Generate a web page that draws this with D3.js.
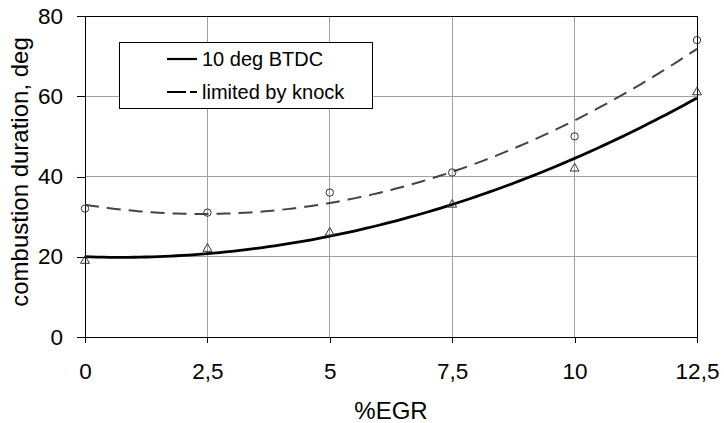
<!DOCTYPE html>
<html>
<head>
<meta charset="utf-8">
<script src="https://cdn.jsdelivr.net/npm/d3@7"></script>
<style>
  html, body { margin: 0; padding: 0; background: #fff; }
  svg text { font-family: "Liberation Sans", Arial, sans-serif; fill: #000; }
</style>
</head>
<body>
<svg id="chart" width="724" height="423"></svg>
<script>
// Measured points
const egr = [0, 2.5, 5, 7.5, 10, 12.5];
const btdc10 = [19, 22, 26, 33, 42, 61];     // 10 deg BTDC (triangles)
const knockLimited = [32, 31, 36, 41, 50, 74]; // limited by knock (circles)

const xTicks = [0, 2.5, 5, 7.5, 10, 12.5];
const yTicks = [0, 20, 40, 60, 80];
const seriesNames = ["10 deg BTDC", "limited by knock"];

(function () {
const svg = d3.select("#chart");
const pLeft = 85, pRight = 697, pTop = 16, pBottom = 337;

const x = d3.scaleLinear().domain([0, 12.5]).range([pLeft, pRight]);
const y = d3.scaleLinear().domain([0, 80]).range([pBottom, pTop]);
const fmt = d => String(d).replace(".", ",");

// Second-order least-squares trend line through the points
function quadFit(xs, ys) {
  const n = xs.length;
  let s = [0, 0, 0, 0, 0], t = [0, 0, 0];
  for (let i = 0; i < n; i++) {
    let p = 1;
    for (let k = 0; k <= 4; k++) { s[k] += p; if (k <= 2) t[k] += p * ys[i]; p *= xs[i]; }
  }
  const A = [[s[0], s[1], s[2], t[0]], [s[1], s[2], s[3], t[1]], [s[2], s[3], s[4], t[2]]];
  for (let c = 0; c < 3; c++) {
    for (let r = c + 1; r < 3; r++) {
      const f = A[r][c] / A[c][c];
      for (let k = c; k < 4; k++) A[r][k] -= f * A[c][k];
    }
  }
  const b = [0, 0, 0];
  for (let r = 2; r >= 0; r--) {
    let v = A[r][3];
    for (let k = r + 1; k < 3; k++) v -= A[r][k] * b[k];
    b[r] = v / A[r][r];
  }
  return xv => b[0] + b[1] * xv + b[2] * xv * xv;
}

// Grid
const grid = svg.append("g");
grid.selectAll(".vg").data(xTicks.slice(1, -1)).join("line")
  .attr("x1", d => x(d)).attr("x2", d => x(d)).attr("y1", pTop).attr("y2", pBottom)
  .attr("stroke", "#a0a0a0").attr("stroke-width", 1).attr("shape-rendering", "crispEdges");
grid.selectAll(".hg").data(yTicks.slice(1, -1)).join("line")
  .attr("x1", pLeft).attr("x2", pRight).attr("y1", d => y(d)).attr("y2", d => y(d))
  .attr("stroke", "#a0a0a0").attr("stroke-width", 1).attr("shape-rendering", "crispEdges");

// Frame
svg.append("rect").attr("x", pLeft).attr("y", pTop).attr("width", pRight - pLeft).attr("height", pBottom - pTop)
  .attr("fill", "none").attr("stroke", "#000").attr("stroke-width", 1).attr("shape-rendering", "crispEdges");

// Axes
const xAxis = svg.append("g").attr("transform", `translate(0,${pBottom})`)
  .call(d3.axisBottom(x).tickValues(xTicks).tickFormat(fmt).tickSize(6).tickPadding(20));
const yAxis = svg.append("g").attr("transform", `translate(${pLeft},0)`)
  .call(d3.axisLeft(y).tickValues(yTicks).tickSize(8).tickPadding(14));
[xAxis, yAxis].forEach(a => {
  a.select(".domain").remove();
  a.selectAll("line").attr("stroke", "#000").attr("shape-rendering", "crispEdges");
  a.selectAll("text").style("font-size", "22.5px").attr("fill", "#000");
});

// Axis titles
svg.append("text").attr("x", 391).attr("y", 419).attr("text-anchor", "middle")
  .style("font-size", "24px").text("%EGR");
svg.append("text").attr("transform", `translate(28,172) rotate(-90)`)
  .attr("text-anchor", "middle").style("font-size", "24px").text("combustion duration, deg");

// Trend lines
const xs = d3.range(0, 12.5 + 1e-9, 0.125);
const line = d3.line().x(d => x(d[0])).y(d => y(d[1]));
const fitA = quadFit(egr, btdc10), fitB = quadFit(egr, knockLimited);
svg.append("path").datum(xs.map(v => [v, fitB(v)])).attr("d", line)
  .attr("fill", "none").attr("stroke", "#444").attr("stroke-width", 2).attr("stroke-dasharray", "14,8");
svg.append("path").datum(xs.map(v => [v, fitA(v)])).attr("d", line)
  .attr("fill", "none").attr("stroke", "#000").attr("stroke-width", 2.8);

// Markers
const tri = d3.symbol().type(d3.symbolTriangle).size(34);
svg.selectAll(".tri").data(egr.map((v, i) => [v, btdc10[i]])).join("path")
  .attr("d", tri).attr("transform", d => `translate(${x(d[0])},${y(d[1])})`)
  .attr("fill", "none").attr("stroke", "#333").attr("stroke-width", 1);
svg.selectAll(".circ").data(egr.map((v, i) => [v, knockLimited[i]])).join("circle")
  .attr("cx", d => x(d[0])).attr("cy", d => y(d[1])).attr("r", 3.7)
  .attr("fill", "none").attr("stroke", "#333").attr("stroke-width", 1);

// Legend
const lg = svg.append("g");
lg.append("rect").attr("x", 119).attr("y", 42).attr("width", 253).attr("height", 66)
  .attr("fill", "#fff").attr("stroke", "#000").attr("stroke-width", 1).attr("shape-rendering", "crispEdges");
const rows = [{ name: seriesNames[0], dash: null, w: 2.2, yy: 59 },
              { name: seriesNames[1], dash: "19,4", w: 2.2, yy: 92 }];
rows.forEach(r => {
  lg.append("line").attr("x1", 167).attr("x2", 197).attr("y1", r.yy).attr("y2", r.yy)
    .attr("stroke", "#000").attr("stroke-width", r.w).attr("stroke-dasharray", r.dash);
  lg.append("text").attr("x", 202).attr("y", r.yy).attr("dy", "0.35em")
    .style("font-size", "20px").text(r.name);
});
})();
</script>
</body>
</html>
